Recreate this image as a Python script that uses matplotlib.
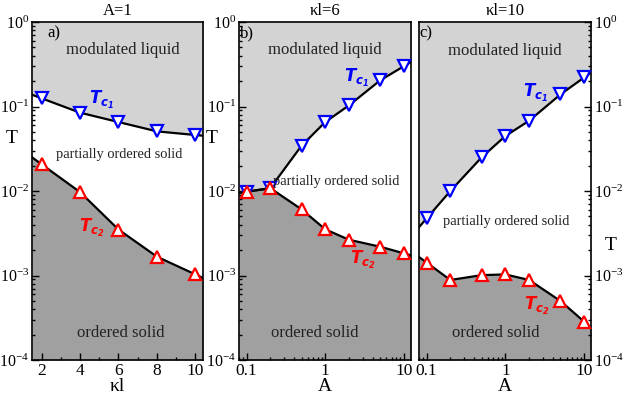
import numpy as np
import matplotlib
matplotlib.use('Agg')
import matplotlib.pyplot as plt
from matplotlib.ticker import LogLocator, MultipleLocator, NullFormatter, FixedLocator, FixedFormatter

plt.rcParams['font.family'] = ['Liberation Serif', 'DejaVu Serif']
plt.rcParams['mathtext.fontset'] = 'stix'

# ---- data ----
kl_a = [2, 4, 6, 8, 10]
tc1_a = [0.125, 0.0845, 0.0655, 0.0508, 0.046]
tc2_a = [0.0207, 0.0097, 0.0035, 0.00167, 0.00103]

A_vals = [0.1, 0.2, 0.5, 1, 2, 5, 10]
tc1_b = [0.0098, 0.0108, 0.0344, 0.0655, 0.103, 0.204, 0.30]
tc2_b = [0.0098, 0.0108, 0.00607, 0.00352, 0.00265, 0.00219, 0.00183]
tc1_c = [0.00475, 0.0100, 0.0251, 0.0448, 0.0679, 0.139, 0.221]
tc2_c = [0.00142, 0.000885, 0.00101, 0.00103, 0.000885, 0.000499, 0.000284]

titles = ['A=1', 'κl=6', 'κl=10']
xlabels = ['κl', 'A', 'A']
panel_tags = ['a)', 'b)', 'c)']

LIGHT = '#d3d3d3'
DARK = '#a0a0a0'


def extend(x, y, lo, hi, logx):
    x = np.asarray(x, float)
    tx = np.log10(x) if logx else x
    ty = np.log10(np.asarray(y, float))
    tlo = np.log10(lo) if logx else lo
    thi = np.log10(hi) if logx else hi
    ylo = ty[0] + (ty[1] - ty[0]) / (tx[1] - tx[0]) * (tlo - tx[0])
    yhi = ty[-1] + (ty[-1] - ty[-2]) / (tx[-1] - tx[-2]) * (thi - tx[-1])
    xe = np.concatenate([[lo], x, [hi]])
    ye = 10 ** np.concatenate([[ylo], ty, [yhi]])
    return xe, ye


fig = plt.figure(figsize=(6.23, 3.96), dpi=100)
bottom, height = 0.0909, 0.8535
lefts = [0.0514, 0.3836, 0.6726]
widths = [0.2745, 0.276, 0.276]

panels = [
    (kl_a, tc1_a, tc2_a, (1.5, 10.4), False),
    (A_vals, tc1_b, tc2_b, (0.08, 12.3), True),
    (A_vals, tc1_c, tc2_c, (0.08, 12.2), True),
]

# text positions (axes fractions)
mod_pos = [(0.53, 0.917), (0.50, 0.917), (0.50, 0.915)]
pos_pos = [(0.51, 0.607), (0.568, 0.528), (0.506, 0.411)]
ord_pos = [(0.52, 0.081), (0.442, 0.081), (0.448, 0.079)]
tag_pos = [(0.09, 0.967), (0.005, 0.967), (0.0, 0.967)]
tc1_lab = [(5.1, 0.119), (2.52, 0.217), (2.44, 0.144)]
tc2_lab = [(4.6, 0.00365), (3.0, 0.00153), (2.51, 0.000435)]
ylab_pos = [(-0.117, 0.63), (-0.157, 0.63), (1.115, 0.365)]

for i, (x, t1, t2, xlim, logx) in enumerate(panels):
    ax = fig.add_axes([lefts[i], bottom, widths[i], height])
    ax.set_yscale('log')
    if logx:
        ax.set_xscale('log')
    ax.set_xlim(*xlim)
    ax.set_ylim(1e-4, 1)

    xe1, ye1 = extend(x, t1, xlim[0], xlim[1], logx)
    xe2, ye2 = extend(x, t2, xlim[0], xlim[1], logx)
    ax.fill_between(xe1, ye1, 1, color=LIGHT, lw=0, zorder=0)
    ax.fill_between(xe2, 1e-4, ye2, color=DARK, lw=0, zorder=0)
    ax.plot(xe1, ye1, color='black', lw=1.6, zorder=2)
    ax.plot(xe2, ye2, color='black', lw=1.6, zorder=2)
    ax.plot(x, t1, ls='none', marker='v', ms=8, mfc='white', mec='blue', mew=1.6, zorder=3)
    ax.plot(x, t2, ls='none', marker='^', ms=8, mfc='white', mec='red', mew=1.6, zorder=4)

    # region labels
    ax.text(*mod_pos[i], 'modulated liquid', transform=ax.transAxes, ha='center', va='center', fontsize=12, color='#222222')
    ax.text(*pos_pos[i], 'partially ordered solid', transform=ax.transAxes, ha='center', va='center', fontsize=10.4, color='#222222', zorder=5)
    ax.text(*ord_pos[i], 'ordered solid', transform=ax.transAxes, ha='center', va='center', fontsize=12, color='#222222')
    ax.text(*tag_pos[i], panel_tags[i], transform=ax.transAxes, ha='left', va='center', fontsize=12)

    ax.text(*tc1_lab[i], r'$\mathbfit{T}_{\mathbfit{c}_{\mathbfit{1}}}$', color='blue', ha='center', va='center',
            fontsize=12, math_fontfamily='dejavusans', zorder=5)
    ax.text(*tc2_lab[i], r'$\mathbfit{T}_{\mathbfit{c}_{\mathbfit{2}}}$', color='red', ha='center', va='center',
            fontsize=12, math_fontfamily='dejavusans', zorder=5)

    ax.set_title(titles[i], fontsize=12, pad=5)
    ax.set_xlabel(xlabels[i], fontsize=14, labelpad=-1)

    # ticks
    ax.yaxis.set_major_locator(LogLocator(base=10, numticks=10))
    ax.yaxis.set_minor_locator(LogLocator(base=10, subs=np.arange(2, 10), numticks=10))
    ax.yaxis.set_minor_formatter(NullFormatter())
    if logx:
        ax.xaxis.set_major_locator(FixedLocator([0.1, 1, 10]))
        ax.xaxis.set_major_formatter(FixedFormatter(['0.1', '1', '10']))
        ax.xaxis.set_minor_locator(LogLocator(base=10, subs=np.arange(2, 10), numticks=10))
        ax.xaxis.set_minor_formatter(NullFormatter())
    else:
        ax.xaxis.set_major_locator(MultipleLocator(2))
        ax.xaxis.set_minor_locator(MultipleLocator(1))

    ax.tick_params(axis='both', which='both', direction='in', top=False, width=1.0)
    ax.tick_params(axis='x', labelsize=12.5, pad=2.5)
    ax.tick_params(axis='y', labelsize=11.5, pad=2)
    ax.tick_params(axis='both', which='major', length=5)
    ax.tick_params(axis='both', which='minor', length=2.5)
    if i == 2:
        ax.tick_params(axis='y', which='both', left=False, right=True, labelleft=False, labelright=True)
        ax.yaxis.set_label_position('right')
        ax.set_ylabel('T', fontsize=14, rotation=0)
    else:
        ax.tick_params(axis='y', which='both', left=True, right=False)
        ax.set_ylabel('T', fontsize=14, rotation=0)
    ax.yaxis.set_label_coords(*ylab_pos[i])
    for s in ax.spines.values():
        s.set_linewidth(1.2)

fig.savefig('out.png', dpi=100)
